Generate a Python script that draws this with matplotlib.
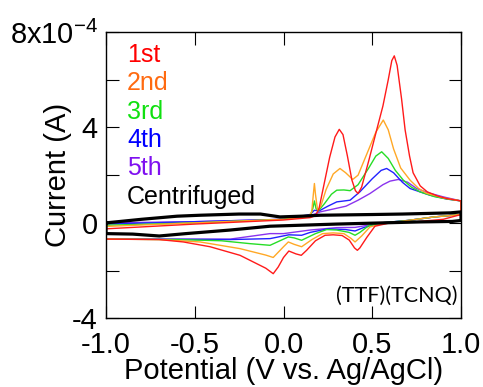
import matplotlib
matplotlib.use("Agg")
import matplotlib.pyplot as plt

plt.rcParams['font.family'] = ['Liberation Sans', 'DejaVu Sans']
plt.rcParams['axes.unicode_minus'] = False

# current values are in units of 1e-4 A
# each cycle: forward scan (-1 -> 1 V) then reverse scan (1 -> -1 V)
v_1st = [-1.0, -0.5, 0.0, 0.15, 0.18, 0.20, 0.225, 0.26, 0.29, 0.314, 0.335, 0.36, 0.385, 0.405, 0.42,
         0.44, 0.48, 0.525, 0.56, 0.59, 0.61, 0.624, 0.64, 0.665, 0.685, 0.71, 0.73, 0.77, 0.81, 0.87,
         0.92, 1.0,
         1.0, 0.9, 0.75, 0.6, 0.515, 0.47, 0.43, 0.416, 0.40, 0.37, 0.33, 0.28, 0.234, 0.18, 0.13, 0.10,
         0.07, 0.03, 0.0, -0.03, -0.058, -0.1, -0.245, -0.414, -0.564, -0.7, -1.0, -1.0]
i_1st = [-0.25, -0.05, 0.12, 0.22, 0.3, 0.6, 1.5, 2.75, 3.6, 3.92, 3.7, 2.8, 1.8, 1.35, 1.23,
         1.5, 2.6, 3.9, 4.9, 6.0, 6.8, 7.0, 6.6, 5.2, 3.9, 2.8, 2.1, 1.55, 1.3, 1.12,
         1.02, 0.92,
         0.35, 0.15, 0.05, 0.0, -0.14, -0.6, -1.05, -1.15, -1.05, -0.72, -0.53, -0.5, -0.52, -0.75, -1.15, -1.36,
         -1.3, -1.18, -1.45, -1.85, -2.13, -1.9, -1.36, -1.0, -0.8, -0.7, -0.68, -0.25]

v_2nd = [-1.0, -0.5, 0.0, 0.14, 0.159, 0.168, 0.174, 0.18, 0.192, 0.21, 0.24, 0.28, 0.318, 0.35, 0.39,
         0.42, 0.47, 0.52, 0.562, 0.59, 0.62, 0.66, 0.713, 0.76, 0.806, 0.9, 1.0,
         1.0, 0.85, 0.7, 0.55, 0.487, 0.44, 0.403, 0.38, 0.34, 0.28, 0.22, 0.16, 0.102, 0.06, 0.027,
         0.0, -0.058, -0.1, -0.245, -0.47, -0.7, -1.0, -1.0]
i_2nd = [-0.15, 0.0, 0.15, 0.25, 0.46, 1.2, 1.65, 1.2, 0.53, 0.7, 1.4, 2.05, 2.28, 2.1, 1.82,
         2.0, 2.9, 3.8, 4.31, 3.9, 3.1, 2.3, 1.79, 1.45, 1.24, 1.05, 0.92,
         0.35, 0.25, 0.1, -0.05, -0.17, -0.55, -0.8, -0.65, -0.45, -0.42, -0.45, -0.7, -1.0, -0.9, -0.8,
         -1.0, -1.45, -1.35, -1.08, -0.8, -0.7, -0.68, -0.15]

v_3rd = [-1.0, -0.5, 0.0, 0.15, 0.165, 0.174, 0.183, 0.196, 0.23, 0.27, 0.3, 0.34, 0.375, 0.42, 0.48,
         0.52, 0.553, 0.59, 0.63, 0.675, 0.72, 0.769, 0.85, 0.92, 1.0,
         1.0, 0.85, 0.7, 0.55, 0.48, 0.43, 0.403, 0.37, 0.3, 0.243, 0.18, 0.102, 0.06, 0.027,
         -0.076, -0.19, -0.35, -0.6, -1.0, -1.0]
i_3rd = [-0.1, 0.0, 0.15, 0.3, 0.6, 0.92, 0.6, 0.5, 0.8, 1.2, 1.37, 1.38, 1.35, 1.6, 2.3,
         2.8, 2.98, 2.7, 2.2, 1.79, 1.5, 1.3, 1.1, 1.0, 0.92,
         0.35, 0.25, 0.1, 0.0, -0.12, -0.4, -0.52, -0.4, -0.3, -0.28, -0.45, -0.73, -0.63, -0.59,
         -0.94, -0.87, -0.75, -0.7, -0.68, -0.1]

v_4th = [-1.0, -0.5, 0.0, 0.15, 0.174, 0.2, 0.25, 0.3, 0.375, 0.43, 0.5, 0.55, 0.581, 0.62, 0.67,
         0.713, 0.825, 0.92, 1.0,
         1.0, 0.85, 0.7, 0.55, 0.45, 0.403, 0.35, 0.25, 0.15, 0.102, 0.03, -0.076, -0.3, -1.0, -1.0]
i_4th = [-0.05, 0.05, 0.15, 0.35, 0.53, 0.5, 0.7, 0.88, 0.95, 1.3, 1.85, 2.2, 2.28, 2.1, 1.7,
         1.44, 1.16, 1.0, 0.92,
         0.35, 0.25, 0.1, 0.0, -0.2, -0.34, -0.28, -0.25, -0.4, -0.52, -0.5, -0.66, -0.7, -0.68, -0.05]

v_5th = [-1.0, -0.5, 0.0, 0.15, 0.206, 0.28, 0.352, 0.42, 0.487, 0.56, 0.6, 0.647, 0.7, 0.75, 0.82,
         0.9, 1.0,
         1.0, 0.85, 0.7, 0.55, 0.403, 0.3, 0.15, 0.0, -0.076, -0.3, -1.0, -1.0]
i_5th = [0.0, 0.05, 0.15, 0.3, 0.46, 0.58, 0.7, 0.95, 1.23, 1.6, 1.75, 1.82, 1.7, 1.44, 1.25,
         1.09, 0.92,
         0.35, 0.25, 0.1, 0.0, -0.19, -0.2, -0.3, -0.45, -0.45, -0.68, -0.68, 0.0]

v_cent = [-1.0, -0.8, -0.6, -0.47, -0.25, -0.13, -0.02, 0.1, 0.206, 0.5, 0.67, 0.94, 1.0,
          1.0, 0.95, 0.77, 0.3, -0.076, -0.3, -0.55, -0.7, -0.85, -1.0, -1.0]
i_cent = [0.0, 0.15, 0.28, 0.32, 0.37, 0.37, 0.25, 0.28, 0.32, 0.35, 0.37, 0.42, 0.46,
          0.1, 0.06, 0.04, -0.05, -0.14, -0.3, -0.45, -0.55, -0.47, -0.45, 0.0]

labels = ['1st', '2nd', '3rd', '4th', '5th', 'Centrifuged']
line_colors = ['#ff1a1a', '#ffa826', '#26dd26', '#2222ff', '#8a33ee', 'black']
text_colors = ['#ff0000', '#ff6a10', '#10e010', '#0000ff', '#7f10f0', 'black']
curves = [(v_1st, i_1st), (v_2nd, i_2nd), (v_3rd, i_3rd), (v_4th, i_4th), (v_5th, i_5th),
          (v_cent, i_cent)]

xticks = [-1.0, -0.5, 0.0, 0.5, 1.0]
yticks = [-4, -2, 0, 2, 4, 6, 8]
ytick_labels = ['-4', '', '0', '', '4', '', r'$\mathregular{8x10^{-4}}$']

fig = plt.figure(figsize=(4.83, 3.87), dpi=100)
ax = fig.add_axes([0.2195, 0.1775, 0.735, 0.7398])

# later cycles first so the 1st cycle sits on top, black last
for k in [4, 3, 2, 1, 0]:
    v, i = curves[k]
    ax.plot(v, i, color=line_colors[k], lw=1.0)
v, i = curves[5]
ax.plot(v, i, color='black', lw=2.3, solid_joinstyle='round')

ax.set_xlim(-1.0, 1.0)
ax.set_ylim(-4, 8)
ax.set_xticks(xticks)
ax.set_xticklabels(['%.1f' % t for t in xticks])
ax.set_yticks(yticks)
ax.set_yticklabels(ytick_labels)
ax.tick_params(direction='in', length=9, width=0.8, top=True, right=True,
               labelsize=21, pad=6)
ax.tick_params(axis='x', pad=9)
for s in ax.spines.values():
    s.set_linewidth(1.0)

ax.set_xlabel('Potential (V vs. Ag/AgCl)', fontsize=21)
ax.set_ylabel('Current (A)', fontsize=21)
ax.xaxis.set_label_coords(0.5, -0.135)
ax.yaxis.set_label_coords(-0.095, 0.5)

for k, lab in enumerate(labels):
    ax.text(0.059, 0.895 - k * 0.0988, lab, color=text_colors[k], fontsize=18,
            transform=ax.transAxes, va='baseline', ha='left')

ax.text(0.99, 0.08, '(TTF)(TCNQ)', fontsize=15.5, family=['Lato', 'DejaVu Sans'],
        transform=ax.transAxes, ha='right', va='center')

fig.savefig('out.png', dpi=100)
